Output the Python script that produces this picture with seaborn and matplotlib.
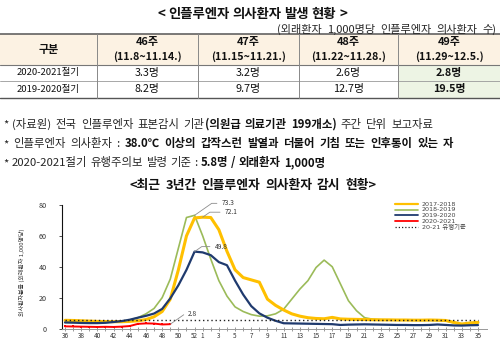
import numpy as np
import pandas as pd
import matplotlib
matplotlib.use("Agg")
import matplotlib.pyplot as plt
from matplotlib.patches import Rectangle
import seaborn as sns

# ---------------- data ----------------
table_title = "< 인플루엔자 의사환자 발생 현황 >"
unit_note = "(외래환자 1,000명당 인플루엔자 의사환자 수)"
col_header = "구분"
week_heads = ["46주", "47주", "48주", "49주"]
week_ranges = ["(11.8~11.14.)", "(11.15~11.21.)", "(11.22~11.28.)", "(11.29~12.5.)"]
row_labels = ["2020-2021절기", "2019-2020절기"]
row_2021 = ["3.3명", "3.2명", "2.6명", "2.8명"]
row_1920 = ["8.2명", "9.7명", "12.7명", "19.5명"]

note1 = [("* (자료원) 전국 인플루엔자 표본감시 기관", "normal"), ("(의원급 의료기관 199개소)", "bold"), (" 주간 단위 보고자료", "normal")]
note2 = [("* 인플루엔자 의사환자 : ", "normal"), ("38.0℃ 이상의 갑작스런 발열과 더불어 기침 또는 인후통이 있는 자", "bold")]
note3 = [("* 2020-2021절기 유행주의보 발령 기준 : ", "normal"), ("5.8명 / 외래환자 1,000명", "bold")]
chart_title = "<최근 3년간 인플루엔자 의사환자 감시 현황>"

weeks = [36, 37, 38, 39, 40, 41, 42, 43, 44, 45, 46, 47, 48, 49, 50, 51, 52,
         1, 2, 3, 4, 5, 6, 7, 8, 9, 10, 11, 12, 13, 14, 15, 16, 17, 18, 19, 20,
         21, 22, 23, 24, 25, 26, 27, 28, 29, 30, 31, 32, 33, 34, 35]
labeled_weeks = [36, 38, 40, 42, 44, 46, 48, 50, 52, 1, 3, 5, 7, 9, 11, 13, 15,
                 17, 19, 21, 23, 25, 27, 29, 31, 33, 35]

s1718 = [5.3, 5.2, 5.0, 4.8, 4.6, 4.5, 4.4, 4.4, 4.6, 5.0, 5.8, 7.6, 11.0, 19.0, 38.0, 60.0, 71.6,
         72.1, 71.9, 64.0, 50.0, 38.0, 33.0, 31.5, 30.0, 19.0, 15.0, 12.0, 9.5, 8.0, 7.0, 6.5, 6.3,
         7.2, 6.2, 6.0, 5.9, 5.8, 5.7, 5.6, 5.6, 5.5, 5.5, 5.4, 5.4, 5.5, 5.4, 5.2, 4.0, 2.9, 3.6, 4.0]
s1819 = [4.0, 3.9, 3.8, 3.8, 3.9, 4.0, 4.2, 4.6, 5.5, 7.0, 9.5, 13.0, 20.0, 32.0, 52.0, 71.9, 73.3,
         60.0, 45.0, 31.0, 21.0, 14.0, 11.0, 9.0, 8.0, 8.2, 9.5, 12.5, 19.0, 25.5, 31.0, 39.5, 44.3,
         40.0, 29.0, 18.0, 11.5, 7.0, 6.0, 5.7, 5.6, 5.5, 5.5, 5.4, 5.3, 5.3, 5.2, 5.0, 3.6, 2.5, 3.0, 3.4]
s1920 = [3.9, 3.8, 3.6, 3.5, 3.5, 3.7, 4.2, 4.8, 5.7, 7.0, 8.2, 9.7, 12.7, 19.5, 28.0, 38.0, 49.8,
         49.3, 47.5, 43.0, 41.0, 31.0, 22.0, 14.5, 9.8, 7.0, 5.0, 3.4, 3.3, 3.2, 3.1, 3.0, 2.9,
         2.8, 2.3, 2.5, 2.6, 2.7, 2.6, 2.5, 2.4, 2.3, 2.3, 2.2, 2.2, 2.3, 2.6, 2.3, 2.0, 1.9, 2.1, 2.2]
s2021 = [1.4, 1.3, 1.2, 1.1, 1.0, 1.1, 1.0, 1.2, 1.6, 3.0, 3.3, 3.2, 2.6, 2.8]
threshold = 5.8

season_names = ["2017-2018", "2018-2019", "2019-2020", "2020-2021"]
threshold_name = "20-21 유행기준"
ylabel = "의사환자분율 (외래환자 1,000명당)"
y_ticks = [0, 20, 40, 60, 80]

# ---------------- style ----------------
sns.set_theme(style="white")
plt.rcParams['font.family'] = ['Noto Sans CJK KR', 'DejaVu Sans']

W, H = 500, 341
fig = plt.figure(figsize=(W / 100, H / 100), dpi=100)
ov = fig.add_axes([0, 0, 1, 1])
ov.set_xlim(0, W)
ov.set_ylim(H, 0)
ov.axis('off')
R = fig.canvas.get_renderer()
TXT = '#111111'


def width_of(s, size, weight):
    t1 = ov.text(0, 0, "|" + s + "|", fontsize=size, fontweight=weight)
    t2 = ov.text(0, 0, "||", fontsize=size, fontweight=weight)
    w = t1.get_window_extent(R).width - t2.get_window_extent(R).width
    t1.remove(); t2.remove()
    return w


def build_words(segs):
    words, gaps = [[]], []
    for s, w in segs:
        buf = ''
        for ch in s:
            if ch == ' ':
                if buf:
                    words[-1].append((buf, w)); buf = ''
                if words[-1]:
                    words.append([]); gaps.append(1)
                elif gaps:
                    gaps[-1] += 1
            else:
                buf += ch
        if buf:
            words[-1].append((buf, w))
    if not words[-1]:
        words.pop(); gaps.pop()
    return words, gaps


def spread_text(x, y, segs, target_w, size, ha='left', color=TXT):
    words, gaps = build_words(segs)
    ww = [[width_of(t, size, w) for t, w in word] for word in words]
    tot = sum(sum(a) for a in ww)
    g = (target_w - tot) / max(sum(gaps), 1)
    start = {'left': x, 'center': x - target_w / 2, 'right': x - target_w}[ha]
    ybase = y + 0.37 * size * 100 / 72
    cx = start
    for i, word in enumerate(words):
        for (t, w), wd in zip(word, ww[i]):
            ov.text(cx, ybase, t, fontsize=size, fontweight=w, ha='left', va='baseline',
                    color=color if w == 'bold' else '#262626')
            cx += wd
        if i < len(gaps):
            cx += g * gaps[i]


# ---------------- title + table ----------------
spread_text(252, 13, [(table_title, 'bold')], 190, 9.6, ha='center')
spread_text(496, 29, [(unit_note, 'normal')], 219, 8.0, ha='right')

top, hb, r1, bot = 33.5, 64.5, 81.0, 98.0
vx = [97, 197.5, 298.7, 398]
col_c = [48.5, 147.3, 248.1, 348.3, 449.0]
ov.add_patch(Rectangle((0, top), W, hb - top, facecolor='#fcf2e3', edgecolor='none'))
ov.add_patch(Rectangle((vx[3], hb), W - vx[3], bot - hb, facecolor='#edf4e4', edgecolor='none'))
ov.plot([0, W], [top, top], color='#555555', lw=1.1)
ov.plot([0, W], [hb, hb], color='#777777', lw=0.8)
ov.plot([0, W], [r1, r1], color='#999999', lw=0.6)
ov.plot([0, W], [bot, bot], color='#555555', lw=1.0)
for x in vx:
    ov.plot([x, x], [top, bot], color='#888888', lw=0.7)

ov.text(col_c[0], 49.5, col_header, fontsize=7.9, fontweight='bold', ha='center', va='center', color=TXT)
for i in range(4):
    ov.text(col_c[i + 1], 41.5, week_heads[i], fontsize=7.9, fontweight='bold', ha='center', va='center', color=TXT)
    ov.text(col_c[i + 1], 56.5, week_ranges[i], fontsize=7.7, fontweight='bold', ha='center', va='center', color=TXT)
for j, (lab, vals) in enumerate(zip(row_labels, [row_2021, row_1920])):
    yy = [72.7, 89.3][j]
    ov.text(col_c[0], yy, lab, fontsize=6.8, ha='center', va='center', color=TXT)
    for i, v in enumerate(vals):
        ov.text(col_c[i + 1], yy, v, fontsize=7.8, fontweight='bold' if i == 3 else 'normal',
                ha='center', va='center', color=TXT)

# ---------------- notes ----------------
spread_text(3, 123.5, note1, 430, 8.2)
spread_text(3, 143, note2, 450, 8.2)
spread_text(3, 162, note3, 322, 8.2)
spread_text(253, 184, [(chart_title, 'bold')], 247, 9.2, ha='center')

# ---------------- chart ----------------
x0, x1, yb, yt = 62, 487, 328.5, 205.0
px_per_wk = (478 - 65) / 51
ax = fig.add_axes([x0 / W, (H - yb) / H, (x1 - x0) / W, (yb - yt) / H])
ax.set_facecolor('none')
ax.set_xlim(-(65 - x0) / px_per_wk, 51 + (x1 - 478) / px_per_wk)
ax.set_ylim(0, 80)

pos = list(range(len(weeks)))
colors = ['#FFC000', '#9BBB59', '#1F3A6E', '#FF0000']
lws = [2.2, 1.2, 1.6, 1.4]
zs = [3, 2, 4, 5]
series = [s1718, s1819, s1920, s2021]
for name, vals, c, lw, z in zip(season_names, series, colors, lws, zs):
    df = pd.DataFrame({'pos': pos[:len(vals)], 'value': vals})
    kw = dict(marker='s', markersize=1.8, markeredgewidth=0) if name == "2020-2021" else {}
    sns.lineplot(data=df, x='pos', y='value', ax=ax, color=c, lw=lw, zorder=z, sort=False, **kw)
thr = pd.DataFrame({'pos': pos, 'value': [threshold] * len(pos)})
sns.lineplot(data=thr, x='pos', y='value', ax=ax, color='#222222', lw=1.0,
             linestyle=(0, (1, 2)), zorder=6)


def label_point(vals, text, dx, dy, idx=None):
    i = int(np.argmax(vals)) if idx is None else idx
    ax.annotate(text, xy=(i, vals[i]), xytext=(dx, dy), textcoords='offset pixels',
                fontsize=4.8, color='#333333', ha='left', va='center',
                arrowprops=dict(arrowstyle='-', color='#8c8c8c', lw=0.6, shrinkA=1, shrinkB=0,
                                connectionstyle='angle,angleA=0,angleB=35,rad=0'), zorder=7)


label_point(s1819, f"{max(s1819):.1f}", 27, 12)
label_point(s1718, f"{max(s1718):.1f}", 22, 5)
label_point(s1920, f"{max(s1920):.1f}", 20, 5)
label_point(s2021, f"{s2021[-1]:.1f}", 18, 10, idx=len(s2021) - 1)

ax.set_xticks(pos)
ax.set_xticklabels([str(w) if w in labeled_weeks else '' for w in weeks])
ax.set_yticks(y_ticks)
ax.set_yticklabels([str(v) for v in y_ticks])
ax.tick_params(axis='x', length=2.5, direction='inout', color='#888888', width=0.6,
               labelsize=4.6, pad=1.2, labelcolor='#333333', bottom=True)
ax.tick_params(axis='y', length=2, direction='out', color='#333333', width=0.6,
               labelsize=5.2, pad=9, labelcolor='#333333', left=True)
for s in ['top', 'right']:
    ax.spines[s].set_visible(False)
ax.spines['left'].set_color('#111111')
ax.spines['left'].set_linewidth(0.8)
ax.spines['bottom'].set_color('#999999')
ax.spines['bottom'].set_linewidth(0.7)
ax.set_xlabel('')
ax.set_ylabel('')

# legend (drawn on overlay at reference rows)
leg_rows = [204.0, 209.7, 215.4, 221.1, 226.8]
leg_styles = [dict(color=c, lw=lw) for c, lw in zip(colors, [1.6, 1.2, 1.3, 1.3])] + \
             [dict(color='#222222', lw=0.9, linestyle=(0, (1, 1.6)))]
for yy, name, st in zip(leg_rows, season_names + [threshold_name], leg_styles):
    ov.plot([395, 418], [yy, yy], **st)
    ov.text(422, yy, name, fontsize=4.6, ha='left', va='center', color='#444444',
            family=['DejaVu Sans', 'Noto Sans CJK KR'])

# rotated y label
ov.text(22, 272, ylabel, rotation=90, fontsize=4.3, ha='center', va='center', color='#333333')

fig.savefig('out.png', dpi=100)
